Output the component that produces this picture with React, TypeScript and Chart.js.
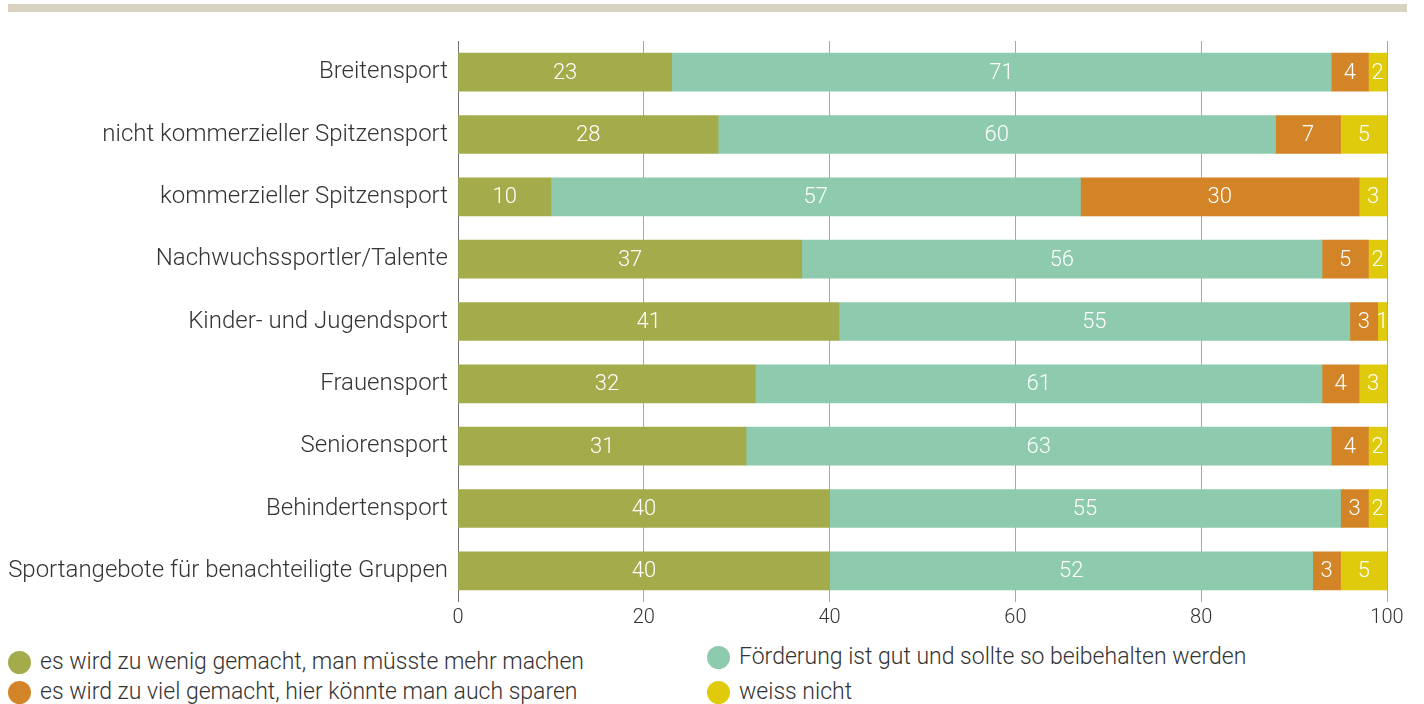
import React, { useEffect, useRef } from "react";
import { Chart, registerables } from "chart.js";

Chart.register(...registerables);

const categories = [
  "Breitensport",
  "nicht kommerzieller Spitzensport",
  "kommerzieller Spitzensport",
  "Nachwuchssportler/Talente",
  "Kinder- und Jugendsport",
  "Frauensport",
  "Seniorensport",
  "Behindertensport",
  "Sportangebote für benachteiligte Gruppen",
];

const seriesLabels = [
  "es wird zu wenig gemacht, man müsste mehr machen",
  "Förderung ist gut und sollte so beibehalten werden",
  "es wird zu viel gemacht, hier könnte man auch sparen",
  "weiss nicht",
];

const zuWenig = [23, 28, 10, 37, 41, 32, 31, 40, 40];
const gut = [71, 60, 57, 56, 55, 61, 63, 55, 52];
const zuViel = [4, 7, 30, 5, 3, 4, 4, 3, 3];
const weissNicht = [2, 5, 3, 2, 1, 3, 2, 2, 5];

const xTicks = [0, 20, 40, 60, 80, 100];

const colors = ["#a3ab4b", "#8dcaae", "#d38427", "#dfcb0c"];

const FONT = "Roboto";

const valueLabels = {
  id: "valueLabels",
  afterDatasetsDraw(chart: any) {
    const ctx = chart.ctx;
    ctx.save();
    ctx.fillStyle = "#ffffff";
    ctx.font = `300 22px ${FONT}`;
    ctx.textAlign = "center";
    ctx.textBaseline = "middle";
    chart.data.datasets.forEach((ds: any, i: number) => {
      const meta = chart.getDatasetMeta(i);
      meta.data.forEach((el: any, j: number) => {
        const v = ds.data[j];
        const cx = (el.x + el.base) / 2;
        ctx.fillText(String(v), cx, el.y + 1);
      });
    });
    ctx.restore();
  },
};

export default function App() {
  const ref = useRef<HTMLCanvasElement | null>(null);

  useEffect(() => {
    if (!ref.current) return;
    const series = [zuWenig, gut, zuViel, weissNicht];
    const chart = new Chart(ref.current, {
      type: "bar",
      data: {
        labels: categories,
        datasets: series.map((d, i) => ({
          label: seriesLabels[i],
          data: d,
          backgroundColor: colors[i],
          borderWidth: 0,
          barThickness: 38,
        })),
      },
      options: {
        indexAxis: "y",
        responsive: false,
        animation: false,
        devicePixelRatio: 1,
        layout: { padding: { top: 41, right: 37, left: 0, bottom: 0 } },
        plugins: {
          legend: { display: false },
          tooltip: { enabled: false },
        },
        scales: {
          x: {
            stacked: true,
            min: 0,
            max: 100,
            afterBuildTicks(scale: any) {
              scale.ticks = xTicks.map((v) => ({ value: v }));
            },
            afterFit(scale: any) {
              scale.height = 38;
            },
            grid: {
              drawTicks: false,
              color: (c: any) => (c.index === 0 ? "#707070" : "#a8a8a8"),
              lineWidth: 1,
            },
            border: { display: false },
            ticks: {
              padding: 4,
              color: "#333",
              font: { family: FONT, size: 20, weight: 300 },
            },
          },
          y: {
            stacked: true,
            afterFit(scale: any) {
              scale.width = 458;
            },
            grid: { display: false, drawTicks: false },
            border: { display: false },
            ticks: {
              padding: 10,
              color: "#333",
              font: { family: FONT, size: 24, weight: 300 },
            },
          },
        },
      },
      plugins: [valueLabels],
    } as any);
    return () => chart.destroy();
  }, []);

  const legendRow = (i: number, left: number, centerY: number) => (
    <div
      key={i}
      style={{
        position: "absolute",
        left,
        top: centerY - 14,
        height: 28,
        display: "flex",
        alignItems: "center",
        fontFamily: FONT,
        fontWeight: 300,
        fontSize: 23,
        color: "#333",
        whiteSpace: "nowrap",
        lineHeight: "28px",
      }}
    >
      <span
        style={{
          display: "inline-block",
          width: 23,
          height: 23,
          borderRadius: "50%",
          background: colors[i],
          marginRight: 9,
          flex: "none",
        }}
      />
      {seriesLabels[i]}
    </div>
  );

  return (
    <div
      style={{
        position: "absolute",
        left: 0,
        top: 0,
        width: 1424,
        height: 704,
        background: "#fff",
        overflow: "hidden",
      }}
    >
      <div
        style={{
          position: "absolute",
          left: 8,
          top: 4,
          width: 1399,
          height: 8,
          background: "#d9d3c1",
        }}
      />
      <canvas
        ref={ref}
        width={1424}
        height={640}
        style={{ position: "absolute", left: 0, top: 0 }}
      />
      {legendRow(0, 8, 662)}
      {legendRow(2, 8, 692)}
      {legendRow(1, 707, 657)}
      {legendRow(3, 707, 692)}
    </div>
  );
}
